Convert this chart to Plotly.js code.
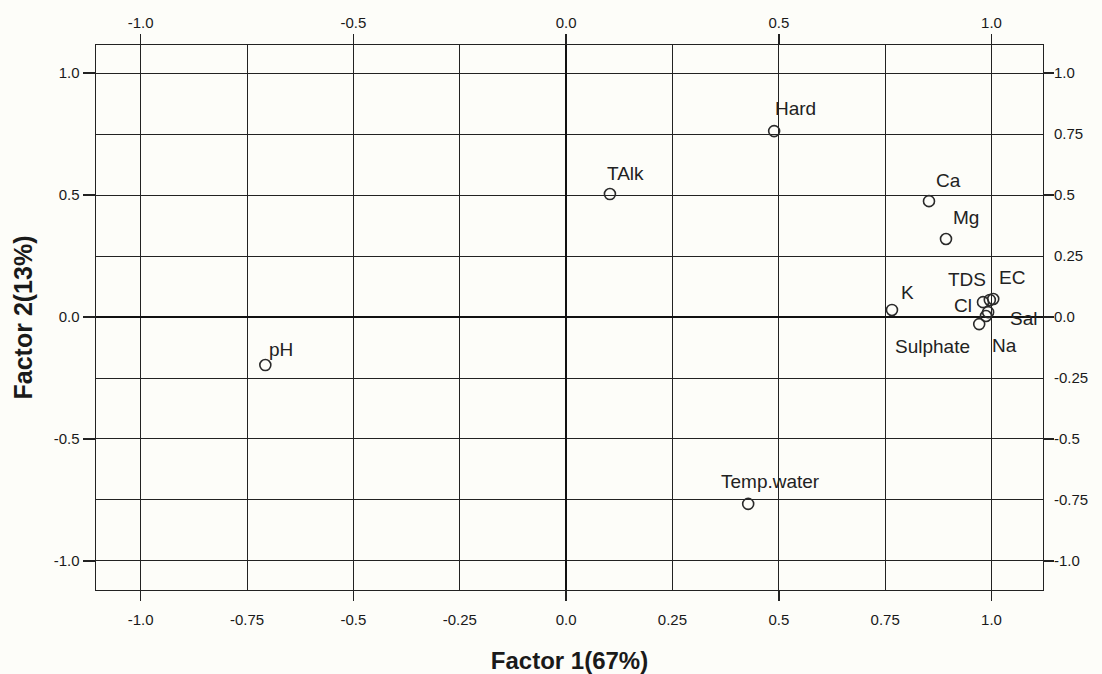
<!DOCTYPE html>
<html>
<head>
<meta charset="utf-8">
<script src="https://cdn.plot.ly/plotly-3.0.1.min.js"></script>
<style>html,body{margin:0;padding:0;background:#fdfdf9;}#chart{width:1102px;height:674px;}</style>
</head>
<body>
<div id="chart"></div>
<script>
// ---- data ----
const variables = ["pH","TAlk","Hard","Temp.water","Ca","Mg","K","TDS","EC","Cl","Sal","Na","Sulphate"];
const factor1   = [-0.707, 0.103, 0.489, 0.428, 0.853, 0.893, 0.766, 0.996, 1.004, 0.980, 0.992, 0.987, 0.971];
const factor2   = [-0.197, 0.504, 0.762, -0.766, 0.475, 0.320, 0.029, 0.070, 0.074, 0.061, 0.020, 0.004, -0.029];

const bottomTickVals = [-1.0,-0.75,-0.5,-0.25,0.0,0.25,0.5,0.75,1.0];
const bottomTickText = ["-1.0","-0.75","-0.5","-0.25","0.0","0.25","0.5","0.75","1.0"];
const topTickVals    = [-1.0,-0.5,0.0,0.5,1.0];
const topTickText    = ["-1.0","-0.5","0.0","0.5","1.0"];
const leftTickVals   = [1.0,0.5,0.0,-0.5,-1.0];
const leftTickText   = ["1.0","0.5","0.0","-0.5","-1.0"];
const rightTickVals  = [1.0,0.75,0.5,0.25,0.0,-0.25,-0.5,-0.75,-1.0];
const rightTickText  = ["1.0","0.75","0.5","0.25","0.0","-0.25","-0.5","-0.75","-1.0"];

// label offsets in pixels (style only)
const labelShiftX = [16, 16, 21, 22, 20, 20, 16, -23, 19, -20, 35, 19, -47];
const labelShiftY = [16, 21, 23, 22, 21, 21, 17, 20, 21, -3, -6, -29, -22];

const xRange = [-1.105, 1.121];
const yRange = [-1.119, 1.115];
const FONT = "Liberation Sans, Arial, sans-serif";
const INK = "#1a1a1a";
const GRID = "#222222";

const trace = {
  x: factor1, y: factor2, type: "scatter", mode: "markers",
  marker: {symbol: "circle-open", size: 11, color: "#2a2a2a", line: {width: 1.6, color: "#2a2a2a"}},
  hoverinfo: "text", text: variables, showlegend: false
};

const annotations = variables.map((v, i) => ({
  x: factor1[i], y: factor2[i], xref: "x", yref: "y", text: v, showarrow: false,
  xshift: labelShiftX[i], yshift: labelShiftY[i],
  font: {family: FONT, size: 19, color: "#222"}
}));

const layout = {
  width: 1102, height: 674,
  margin: {l: 96, r: 59, t: 45, b: 84, pad: 0},
  paper_bgcolor: "#fdfdf9", plot_bgcolor: "#fdfdf9",
  font: {family: FONT, size: 15, color: INK},
  showlegend: false,
  xaxis: {
    range: xRange, side: "bottom", tickmode: "array", tickvals: bottomTickVals, ticktext: bottomTickText,
    ticks: "", ticklabelstandoff: 16, showgrid: true, gridcolor: GRID, gridwidth: 1,
    zeroline: true, zerolinecolor: "#111", zerolinewidth: 2.2,
    showline: true, linecolor: "#222", linewidth: 1.4, mirror: true,
    tickfont: {family: FONT, size: 15, color: INK},
    title: {text: "<b>Factor 1(67%)</b>", font: {family: FONT, size: 24, color: INK}, standoff: 26}
  },
  xaxis2: {
    range: xRange, overlaying: "x", side: "top", anchor: "y", tickmode: "array",
    tickvals: topTickVals, ticktext: topTickText, ticks: "outside", ticklen: 10, tickwidth: 1.4, tickcolor: "#222",
    showgrid: false, zeroline: false, showline: false,
    tickfont: {family: FONT, size: 15, color: INK}
  },
  xaxis3: {
    range: xRange, overlaying: "x", side: "bottom", anchor: "y", tickmode: "array",
    tickvals: topTickVals, ticks: "outside", ticklen: 10, tickwidth: 1.4, tickcolor: "#222",
    showticklabels: false, showgrid: false, zeroline: false, showline: false
  },
  yaxis: {
    range: yRange, side: "left", tickmode: "array", tickvals: leftTickVals, ticktext: leftTickText,
    ticks: "outside", ticklen: 12, tickwidth: 1.4, tickcolor: "#222",
    showgrid: false, zeroline: false, showline: true, linecolor: "#222", linewidth: 1.4, mirror: true,
    tickfont: {family: FONT, size: 15, color: INK},
    title: {text: "<b>Factor 2(13%)</b>", font: {family: FONT, size: 25, color: INK}, standoff: 14}
  },
  yaxis2: {
    range: yRange, overlaying: "y", side: "right", anchor: "x", tickmode: "array",
    tickvals: rightTickVals, ticktext: rightTickText, ticks: "", ticklabelstandoff: 10,
    showgrid: true, gridcolor: GRID, gridwidth: 1,
    zeroline: true, zerolinecolor: "#111", zerolinewidth: 2.2, showline: false,
    tickfont: {family: FONT, size: 15, color: INK}
  },
  yaxis3: {
    range: yRange, overlaying: "y", side: "right", anchor: "x", tickmode: "array",
    tickvals: leftTickVals, ticks: "outside", ticklen: 10, tickwidth: 1.4, tickcolor: "#222",
    showticklabels: false, showgrid: false, zeroline: false, showline: false
  },
  annotations: annotations
};

const helperX2 = {x: [], y: [], xaxis: "x2", yaxis: "y", type: "scatter", showlegend: false, hoverinfo: "skip"};
const helperX3 = {x: [], y: [], xaxis: "x3", yaxis: "y", type: "scatter", showlegend: false, hoverinfo: "skip"};
const helperY2 = {x: [], y: [], xaxis: "x", yaxis: "y2", type: "scatter", showlegend: false, hoverinfo: "skip"};
const helperY3 = {x: [], y: [], xaxis: "x", yaxis: "y3", type: "scatter", showlegend: false, hoverinfo: "skip"};

Plotly.newPlot("chart", [helperY2, helperY3, helperX2, helperX3, trace], layout, {displayModeBar: false, staticPlot: true});
</script>
</body>
</html>
